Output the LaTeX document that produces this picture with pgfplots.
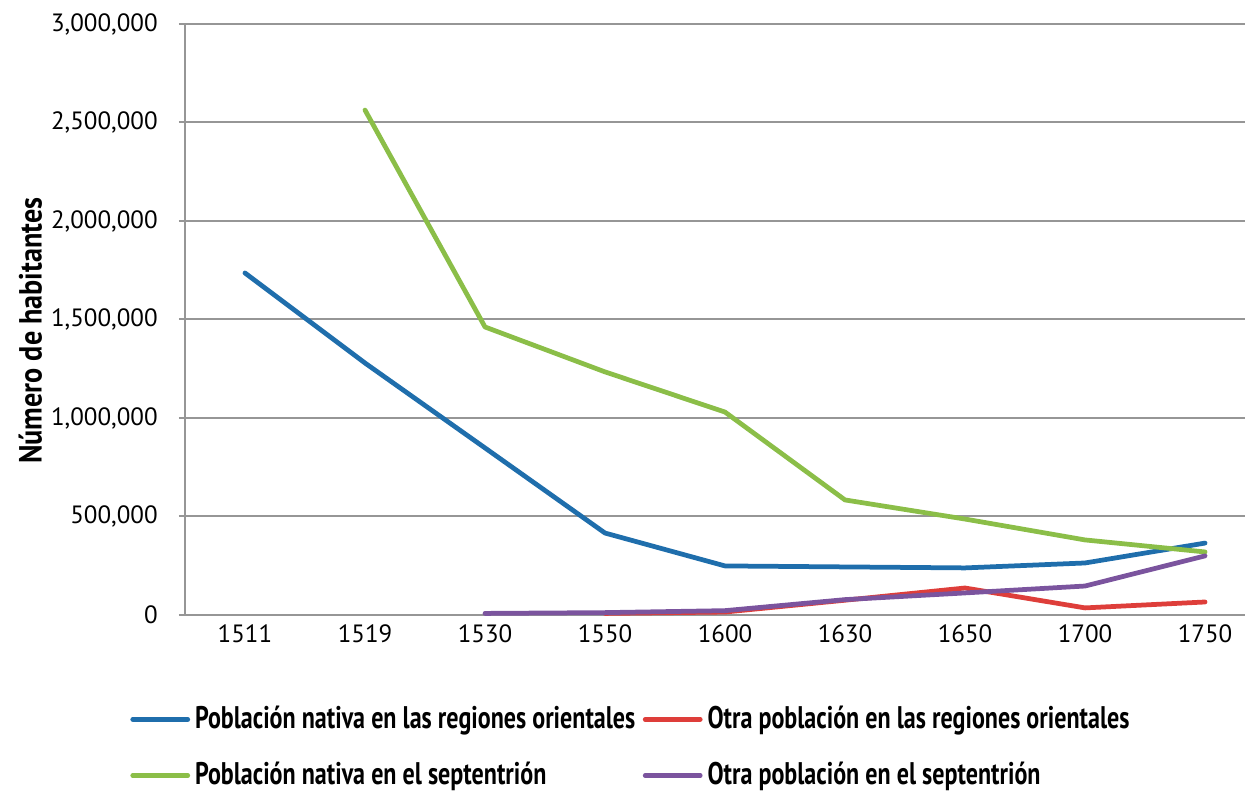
\documentclass[border=0pt]{standalone}
\usepackage{fontspec}
\setmainfont{PT Sans}
\newfontfamily\condfont[FakeStretch=0.77]{PT Sans}
\newfontfamily\labfont[FakeStretch=0.88]{PT Sans}
\usepackage{pgfplots}
\pgfplotsset{compat=1.18}
\definecolor{cblue}{RGB}{31,110,172}
\definecolor{cred}{RGB}{222,62,58}
\definecolor{cgreen}{RGB}{139,190,72}
\definecolor{cpurple}{RGB}{123,84,158}
\definecolor{cgrid}{RGB}{150,150,150}
\begin{document}
\begin{tikzpicture}
\useasboundingbox (-74pt,-71.2pt) rectangle (424pt,246pt);
\begin{axis}[
  at={(0,0)}, anchor=south west,
  scale only axis, width=424pt, height=236.4pt,
  xmin=-0.5, xmax=8.333, ymin=0, ymax=3000000,
  scaled y ticks=false,
  axis lines*=left,
  axis line style={cgrid, line width=0.8pt},
  ymajorgrids, grid style={cgrid, line width=0.8pt},
  xtick={0,...,8},
  xticklabels={1511,1519,1530,1550,1600,1630,1650,1700,1750},
  major x tick style={draw=none},
  ytick={0,500000,...,3000000},
  yticklabels={0,{500,000},{1,000,000},{1,500,000},{2,000,000},{2,500,000},{3,000,000}},
  major y tick style={cgrid, line width=0.8pt},
  tick align=outside, major tick length=2.4pt,
  ticklabel style={font=\fontsize{10}{12}\selectfont, text=black},
  yticklabel style={xshift=-5pt},
  xticklabel style={yshift=2pt},
  ylabel={\labfont\bfseries\fontsize{12.8}{14}\selectfont Número de habitantes},
  ylabel style={at={(axis description cs:-0.146,0.481)}, anchor=center},
  every axis plot/.append style={line width=1.9pt, line join=round, line cap=round},
  legend style={at={(rel axis cs:-0.052,-0.145)}, anchor=north west, draw=none, fill=none,
    font=\condfont\bfseries\fontsize{12.5}{14}\selectfont, inner sep=0pt,
    /tikz/every even column/.append style={column sep=1pt},
    row sep=8pt},
  legend columns=2,
  legend image code/.code={\draw[#1, line width=1.9pt] (0pt,0pt) -- (22pt,0pt);},
  legend cell align=left,
  clip=false,
]
\addplot[cblue] coordinates {(0,1736000) (1,1279000) (2,848000) (3,416000) (4,249000) (5,244000) (6,239000) (7,264000) (8,365000)};
\addlegendentry{Población nativa en las regiones orientales}
\addplot[cred] coordinates {(3,8000) (4,15000) (5,75000) (6,137000) (7,36000) (8,66000)};
\addlegendentry{Otra población en las regiones orientales}
\addplot[cgreen] coordinates {(1,2563000) (2,1462000) (3,1234000) (4,1030000) (5,584000) (6,487000) (7,381000) (8,320000)};
\addlegendentry{Población nativa en el septentrión}
\addplot[cpurple] coordinates {(2,8000) (3,12000) (4,22000) (5,78000) (6,112000) (7,147000) (8,300000)};
\addlegendentry{Otra población en el septentrión}
\end{axis}
\end{tikzpicture}
\end{document}
